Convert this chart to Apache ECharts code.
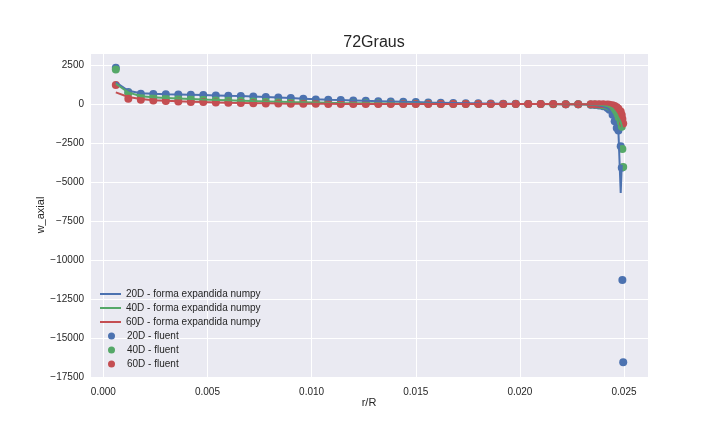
<!DOCTYPE html>
<html>
<head>
<meta charset="utf-8">
<script src="https://cdn.jsdelivr.net/npm/echarts@6/dist/echarts.min.js"></script>
<style>
  html, body { margin: 0; padding: 0; background: #fff; }
  #chart { width: 720px; height: 432px; }
</style>
</head>
<body>
<div id="chart"></div>
<script>
// r/R positions (uniform part + refined near the wall)
const rR = [
  0.0006, 0.0012, 0.0018, 0.0024, 0.0030, 0.0036, 0.0042, 0.0048, 0.0054, 0.0060,
  0.0066, 0.0072, 0.0078, 0.0084, 0.0090, 0.0096, 0.0102, 0.0108, 0.0114, 0.0120,
  0.0126, 0.0132, 0.0138, 0.0144, 0.0150, 0.0156, 0.0162, 0.0168, 0.0174, 0.0180,
  0.0186, 0.0192, 0.0198, 0.0204, 0.0210, 0.0216, 0.0222, 0.0228, 0.0234,
  0.0236, 0.0238, 0.0240, 0.0242, 0.0243, 0.02445, 0.02455, 0.02465, 0.02473, 0.02484, 0.02489, 0.02492, 0.02496
];

// fluent
const fluent20 = [
  2330, 780, 660, 640, 630, 615, 600, 575, 555, 530,
  510, 480, 450, 420, 385, 340, 300, 275, 255, 230,
  205, 185, 165, 145, 125, 105, 90, 75, 60, 45,
  35, 25, 15, 10, 5, 0, -10, -20, -40,
  -60, -90, -140, -250, -360, -680, -1110, -1530, -1690, -2710, -4090, -11280, -16560
];
const fluent40 = [
  2210, 700, 490, 430, 390, 350, 320, 290, 265, 240,
  215, 190, 170, 150, 130, 115, 100, 85, 72, 60,
  50, 42, 35, 28, 22, 17, 12, 8, 5, 3,
  0, 0, 0, 0, 0, -5, -10, -15, -25,
  -30, -50, -80, -130, -180, -280, -420, -600, -850, -1150, -1450, -2880, -4030
];
const fluent60 = [
  1230, 340, 275, 230, 200, 165, 140, 125, 100, 80,
  65, 50, 40, 30, 25, 20, 15, 10, 10, 5,
  5, 0, 0, 0, 0, 0, 0, 0, 0, 0,
  0, 0, 0, 0, 0, 0, -5, -5, -10,
  -10, -15, -20, -35, -50, -80, -130, -200, -300, -480, -700, -950, -1250
];

// forma expandida numpy
const numpy20 = [
  1400, 850, 700, 655, 635, 620, 600, 580, 555, 530,
  510, 480, 450, 420, 385, 345, 305, 278, 255, 230,
  205, 185, 165, 145, 125, 105, 90, 75, 60, 45,
  35, 25, 15, 10, 5, 0, -10, -20, -40,
  -60, -90, -140, -250, -380, -700, -1150, -1550, -1750, -5700, -3900, null, null
];
const numpy40 = [
  1300, 750, 500, 430, 390, 350, 320, 290, 265, 240,
  215, 190, 170, 150, 130, 115, 100, 85, 72, 60,
  50, 42, 35, 28, 22, 17, 12, 8, 5, 3,
  0, 0, 0, 0, 0, -5, -10, -15, -25,
  -30, -50, -80, -130, -190, -300, -450, -650, -900, -1150, -1400, -1550, -1650
];
const numpy60 = [
  750, 450, 320, 250, 210, 175, 150, 125, 105, 85,
  70, 55, 45, 35, 28, 22, 17, 13, 10, 8,
  6, 4, 2, 0, 0, 0, 0, 0, 0, 0,
  0, 0, 0, 0, 0, 0, -5, -5, -10,
  -10, -15, -20, -35, -50, -80, -130, -200, -300, -480, -700, -950, -1250
];

const colors = ['#4C72B0', '#55A868', '#C44E52'];
const font = "'Liberation Sans', Arial, sans-serif";
const txt = '#262626';

const pairs = arr => rR.map((x, i) => [x, arr[i]]);
const minus = v => (v < 0 ? '\u2212' + Math.abs(v) : String(v));

const lineNames = ['20D - forma expandida numpy', '40D - forma expandida numpy', '60D - forma expandida numpy'];
const dotNames = ['20D - fluent', '40D - fluent', '60D - fluent'];
const lineData = [numpy20, numpy40, numpy60];
const dotData = [fluent20, fluent40, fluent60];

const series = [];
dotData.forEach((d, i) => {
  series.push({
    name: dotNames[i], type: 'scatter', z: 2,
    symbolSize: 8,
    itemStyle: { color: colors[i], opacity: 1 },
    data: pairs(d)
  });
});
lineData.forEach((d, i) => {
  series.push({
    name: lineNames[i], type: 'line', z: 3,
    showSymbol: false, symbol: 'none',
    itemStyle: { color: colors[i] },
    lineStyle: { color: colors[i], width: 2 },
    data: pairs(d)
  });
});

const chart = echarts.init(document.getElementById('chart'));
chart.setOption({
  animation: false,
  backgroundColor: '#ffffff',
  textStyle: { fontFamily: font, color: txt },
  title: {
    text: '72Graus', left: 369, top: 30, textAlign: 'center',
    textStyle: { fontFamily: font, fontSize: 16, fontWeight: 'normal', color: txt }
  },
  grid: {
    left: 90, right: 72, top: 53, bottom: 55,
    show: true, backgroundColor: '#EAEAF2', borderWidth: 0
  },
  legend: [
    {
      data: lineNames, orient: 'vertical', left: 100, top: 287,
      padding: 0, itemGap: 0, icon: 'rect', itemWidth: 21, itemHeight: 2,
      textStyle: { fontFamily: font, fontSize: 10, color: txt, lineHeight: 14 }
    },
    {
      data: dotNames, orient: 'vertical', left: 108, top: 329,
      padding: 0, itemGap: 0, icon: 'circle', itemWidth: 21, itemHeight: 7,
      textStyle: { fontFamily: font, fontSize: 10, color: txt, lineHeight: 14 }
    }
  ],
  xAxis: {
    type: 'value', min: -0.00064, max: 0.02615, splitNumber: 5,
    name: 'r/R', nameLocation: 'middle', nameGap: 20, nameMoveOverlap: false,
    nameTextStyle: { fontFamily: font, fontSize: 11, color: txt },
    axisLine: { show: false }, axisTick: { show: false },
    axisLabel: {
      fontFamily: font, fontSize: 10, color: txt, margin: 10,
      showMinLabel: false, showMaxLabel: false,
      formatter: v => v.toFixed(3)
    },
    splitLine: { show: true, lineStyle: { color: '#ffffff', width: 1 } }
  },
  yAxis: {
    type: 'value', min: -17500, max: 3274, interval: 2500,
    name: 'w_axial', nameLocation: 'middle', nameGap: 44, nameMoveOverlap: false,
    nameTextStyle: { fontFamily: font, fontSize: 11, color: txt },
    axisLine: { show: false }, axisTick: { show: false },
    axisLabel: {
      fontFamily: font, fontSize: 10, color: txt, margin: 6,
      showMaxLabel: false, formatter: minus
    },
    splitLine: { show: true, lineStyle: { color: '#ffffff', width: 1 } }
  },
  series: series
});
</script>
</body>
</html>
